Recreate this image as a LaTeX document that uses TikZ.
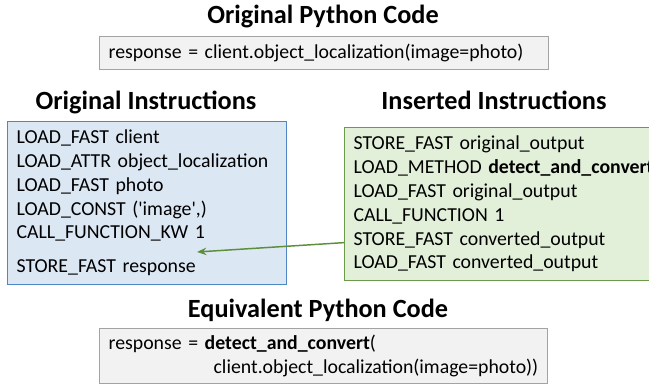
\documentclass[tikz,border=0pt]{standalone}
\usepackage{fontspec}
\setmainfont{Carlito}
\usepackage{tikz}
\usetikzlibrary{positioning,arrows.meta}
\definecolor{grayFill}{HTML}{F2F2F2}
\definecolor{grayLine}{HTML}{A3A3A3}
\definecolor{blueFill}{HTML}{DCE7F4}
\definecolor{blueLine}{HTML}{4F86C6}
\definecolor{greenFill}{HTML}{E2EFD9}
\definecolor{greenLine}{HTML}{6A9A4A}
\definecolor{arrowGreen}{HTML}{5B8F3A}

\begin{document}
\begin{tikzpicture}[x=0.75pt,y=-0.75pt,
    title/.style={font=\fontsize{19.7}{23}\selectfont\bfseries,anchor=base,inner sep=0pt},
    code/.style={anchor=north west,align=left,inner xsep=6.75pt,inner ysep=0pt,
        font=\fontsize{14.85}{17.85}\selectfont,line width=0.9pt},
    pycode/.style={code,draw=grayLine,fill=grayFill},
    orig/.style={code,draw=blueLine,fill=blueFill},
    inserted/.style={code,draw=greenLine,fill=greenFill}]
    \useasboundingbox (0,0) rectangle (649,384);
    \clip (0,0) rectangle (649,384);
    \node[pycode,text width=323.25pt,minimum height=24.75pt] (origCode) at (99,36)
        {response = client.object\_localization(image=photo)};
    \node[orig,text width=195.75pt,minimum height=122.25pt] (origInstr) at (7,121)
        {LOAD\_FAST client\\
         LOAD\_ATTR object\_localization\\
         LOAD\_FAST photo\\
         LOAD\_CONST (\textquotesingle image\textquotesingle,)\\
         CALL\_FUNCTION\_KW 1\\[7.65pt]
         STORE\_FAST response};
    \node[inserted,text width=240pt,minimum height=114.75pt] (insInstr) at (344,127)
        {STORE\_FAST original\_output\\
         \mbox{LOAD\_METHOD \textbf{detect\_and\_convert}}\\
         LOAD\_FAST original\_output\\
         CALL\_FUNCTION 1\\
         STORE\_FAST converted\_output\\
         LOAD\_FAST converted\_output};
    \node[pycode,text width=322.5pt,minimum height=41.25pt] (equivCode) at (99,328)
        {response = \textbf{detect\_and\_convert}(\\
         \hspace*{78.75pt}client.object\_localization(image=photo))};
    \node[title] (origCodeTitle) at (323,24) {Original Python Code};
    \node[title] (origInstrTitle) at (146,110) {Original Instructions};
    \node[title] (insInstrTitle) at (494,110) {Inserted Instructions};
    \node[title] (equivCodeTitle) at (318,318) {Equivalent Python Code};
    \coordinate (tip) at (197,252);
    \draw[arrowGreen,line width=1.1pt,-{Stealth[length=7pt,width=5.5pt]}]
        ([yshift=-28.9pt]insInstr.west) -- (tip);
\end{tikzpicture}
\end{document}
